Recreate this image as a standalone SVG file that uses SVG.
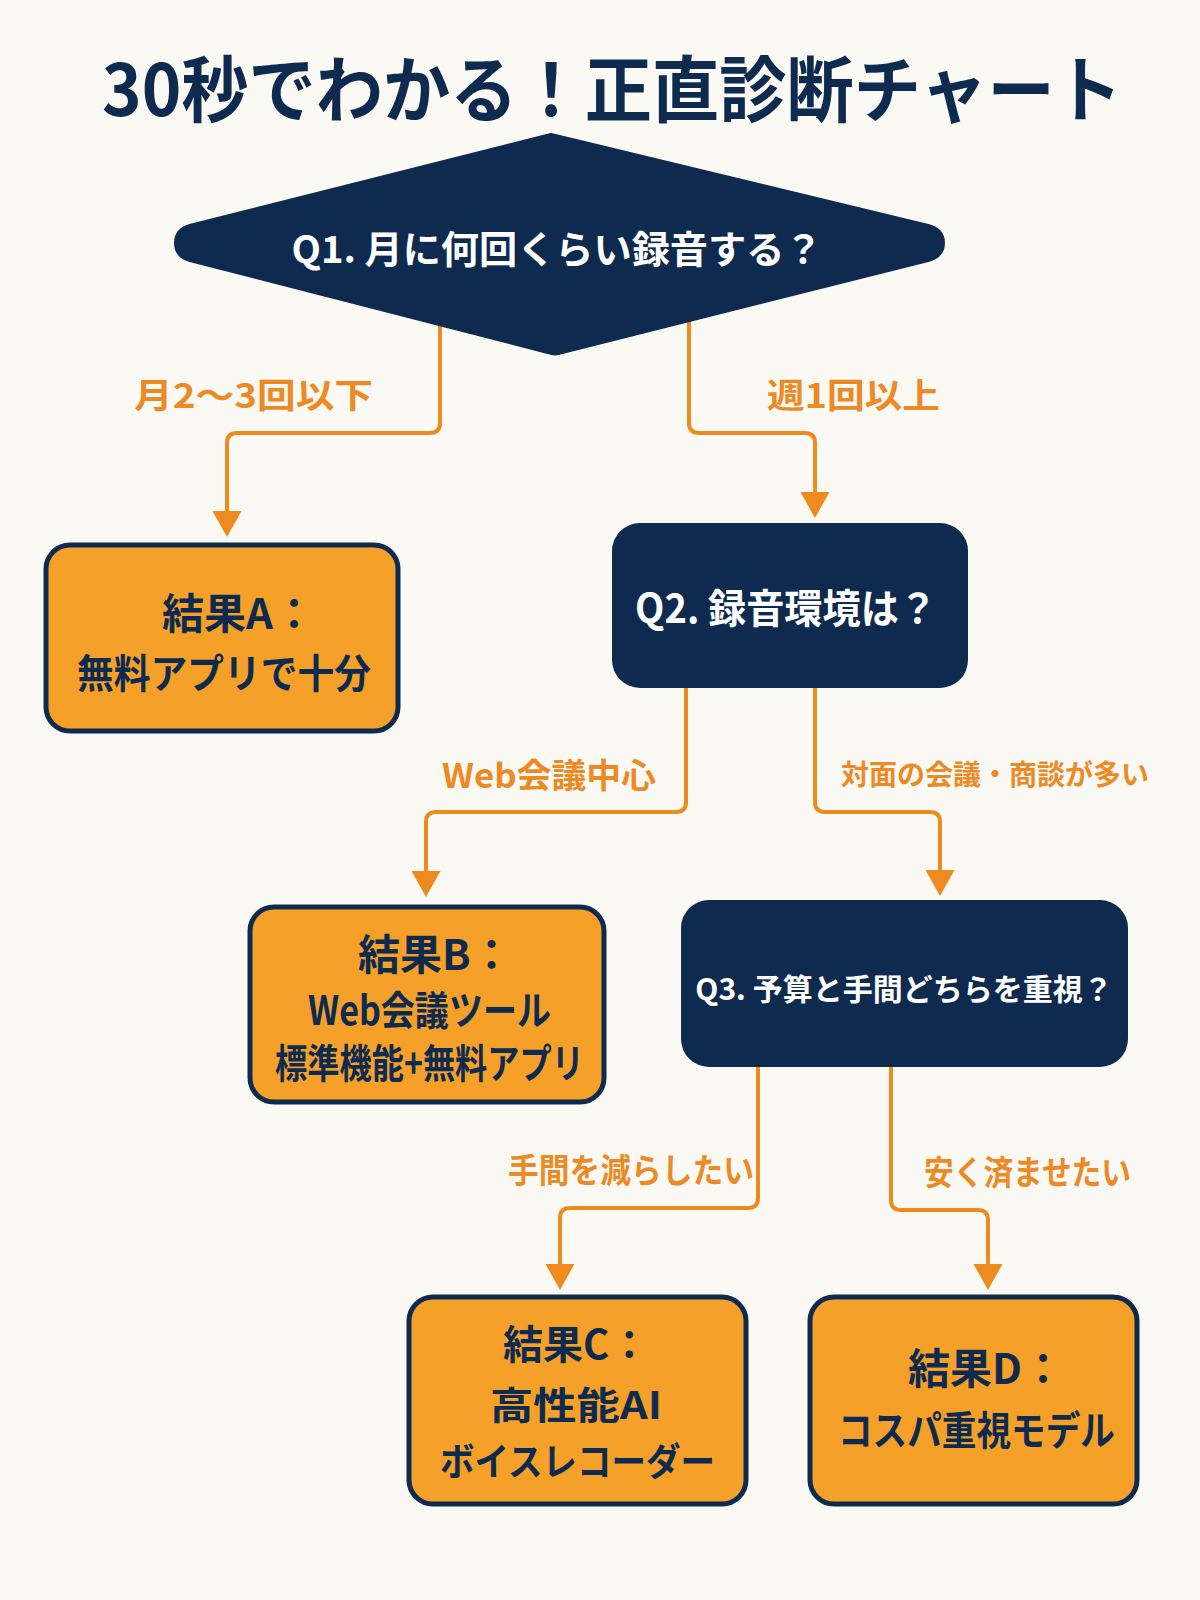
<svg xmlns="http://www.w3.org/2000/svg" width="1200" height="1600" viewBox="0 0 1200 1600">
<style>
text{font-family:"Noto Sans CJK JP","Noto Sans",sans-serif;font-weight:700;dominant-baseline:central}
.title{fill:#0E2A4E;font-size:72px}
.q{fill:#FFFFFF;font-size:38px}
.r{fill:#0E2A4E;font-size:40px}
.h{fill:#0E2A4E;font-size:42px}
.lbl{fill:#EC8A25;font-size:34px}
.navy{fill:#0E2A4E}
.res{fill:#F5A129;stroke:#0E2A4E;stroke-width:5}
.con{fill:none;stroke:#EE8B1F;stroke-width:4;marker-end:url(#arr)}
</style>
<defs>
<marker id="arr" viewBox="0 0 26 29" refX="0" refY="14.5" markerWidth="26" markerHeight="29" markerUnits="userSpaceOnUse" orient="auto">
<path d="M0,0 L26,14.5 L0,29 Z" fill="#EE8B1F"/>
</marker>
</defs>
<rect width="1200" height="1600" fill="#FBF9F4"/>
<g id="title"><text class="title" x="612" y="84" text-anchor="middle" textLength="1020" lengthAdjust="spacingAndGlyphs">30秒でわかる！正直診断チャート</text></g>
<g id="connectors">
<path class="con" d="M440 300 V423 Q440 433 430 433 H237 Q227 433 227 443 V511"/>
<path class="con" d="M689 300 V423 Q689 433 699 433 H805 Q815 433 815 443 V492"/>
<path class="con" d="M686 680 V802 Q686 812 676 812 H436 Q426 812 426 822 V871"/>
<path class="con" d="M815 680 V802 Q815 812 825 812 H930 Q940 812 940 822 V870"/>
<path class="con" d="M758 1060 V1198 Q758 1208 748 1208 H570 Q560 1208 560 1218 V1264"/>
<path class="con" d="M891 1060 V1200 Q891 1210 901 1210 H978 Q988 1210 988 1220 V1264"/>
<text class="lbl" x="134" y="393" textLength="239" lengthAdjust="spacingAndGlyphs">月2〜3回以下</text>
<text class="lbl" x="767" y="393" textLength="173" lengthAdjust="spacingAndGlyphs">週1回以上</text>
<text class="lbl" x="442" y="773" textLength="214" lengthAdjust="spacingAndGlyphs">Web会議中心</text>
<text class="lbl" x="841" y="773" style="font-size:28px">対面の会議・商談が多い</text>
<text class="lbl" x="508" y="1168" textLength="246" lengthAdjust="spacingAndGlyphs">手間を減らしたい</text>
<text class="lbl" x="924" y="1170" textLength="207" lengthAdjust="spacingAndGlyphs">安く済ませたい</text>
</g>
<g id="q1">
<path class="navy" d="M551 135 L928 226 Q943 230 943 243 Q943 256 928 260 L562 352 Q555 355 548 352 L190 260 Q176 256 176 243 Q176 230 190 226 Z" stroke="#0E2A4E" stroke-width="4" stroke-linejoin="round"/>
<text class="q" x="557" y="246" text-anchor="middle" textLength="531" lengthAdjust="spacingAndGlyphs">Q1. 月に何回くらい録音する？</text>
</g>
<g id="resultA">
<rect class="res" x="46" y="545" width="352" height="186" rx="24"/>
<text class="h" x="162" y="610">結果A：</text>
<text class="r" x="77" y="671" textLength="294" lengthAdjust="spacingAndGlyphs">無料アプリで十分</text>
</g>
<g id="q2">
<rect class="navy" x="612" y="523" width="356" height="165" rx="28"/>
<text class="q" x="635" y="606" style="font-size:40px" textLength="302" lengthAdjust="spacingAndGlyphs">Q2. 録音環境は？</text>
</g>
<g id="resultB">
<rect class="res" x="250" y="907" width="354" height="195" rx="24"/>
<text class="h" x="358" y="951">結果B：</text>
<text class="r" x="308" y="1008" textLength="243" lengthAdjust="spacingAndGlyphs">Web会議ツール</text>
<text class="r" x="275" y="1061" textLength="309" lengthAdjust="spacingAndGlyphs">標準機能+無料アプリ</text>
</g>
<g id="q3">
<rect class="navy" x="681" y="900" width="447" height="167" rx="28"/>
<text class="q" x="904" y="987" style="font-size:30px" text-anchor="middle">Q3. 予算と手間どちらを重視？</text>
</g>
<g id="resultC">
<rect class="res" x="409" y="1297" width="337" height="207" rx="24"/>
<text class="r" x="503" y="1342">結果C：</text>
<text class="r" x="490" y="1402" style="font-size:38px" textLength="172" lengthAdjust="spacingAndGlyphs">高性能AI</text>
<text class="r" x="440" y="1458" style="font-size:38px" textLength="275" lengthAdjust="spacingAndGlyphs">ボイスレコーダー</text>
</g>
<g id="resultD">
<rect class="res" x="810" y="1297" width="327" height="207" rx="24"/>
<text class="h" x="908" y="1365">結果D：</text>
<text class="r" x="838" y="1428" textLength="277" lengthAdjust="spacingAndGlyphs">コスパ重視モデル</text>
</g>
</svg>
